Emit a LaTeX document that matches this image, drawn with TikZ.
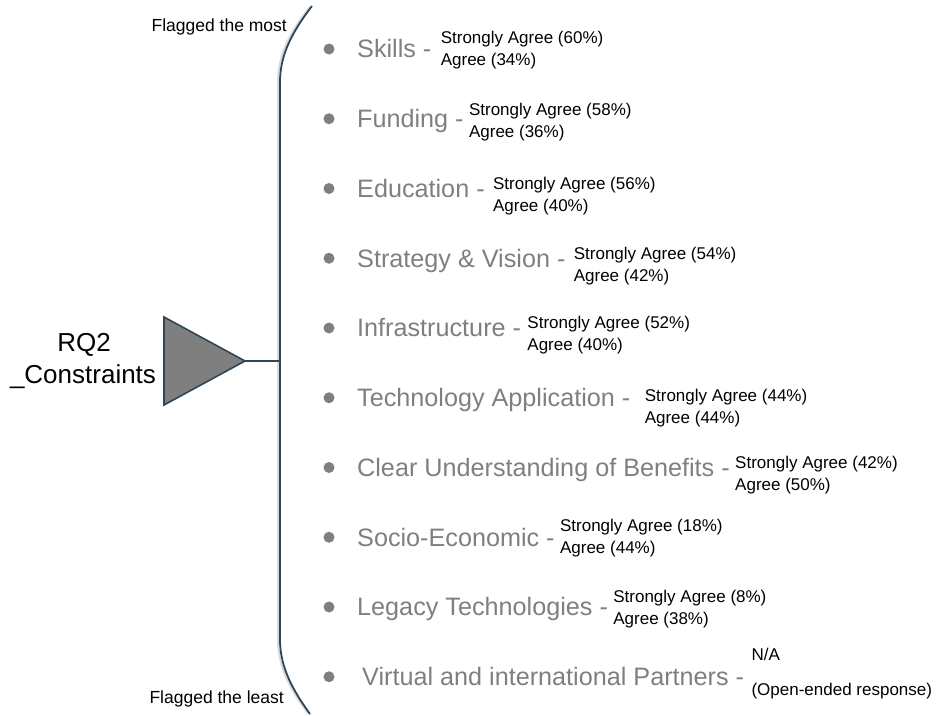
\documentclass[tikz,border=0pt]{standalone}
\usepackage{fontspec}
\setmainfont{Liberation Sans}
\usetikzlibrary{calc}
\definecolor{labgray}{HTML}{7F7F7F}
\definecolor{darkline}{HTML}{2E4657}
\newcommand\rowentry[8]{%
  \node[bul] (b#1) at (329,#2) {};
  \node[mainlab] (m#1) at (#8,{#2+8.8}) {#3};
  \node[sublab] (sa#1) at ($(m#1.base east)+(#7,{#4-8.8})$) {#5};
  \node[sublab] (sb#1) at ($(sa#1.base west)+(0,22)$) {#6};
}
\begin{document}
\begin{tikzpicture}[x=1pt,y=-1pt,
  mainlab/.style={anchor=base west, inner sep=0pt, text=labgray, font=\fontsize{25.2}{28}\selectfont},
  sublab/.style={anchor=base west, inner sep=0pt, font=\fontsize{17}{20}\selectfont},
  bul/.style={circle, fill=labgray, minimum size=11pt, inner sep=0pt},
  flag/.style={inner sep=0pt, font=\fontsize{17.5}{20}\selectfont},
  rqlab/.style={inner sep=0pt, font=\fontsize{26}{30}\selectfont}]
\useasboundingbox (0,0) rectangle (944,715);

% bracket
\coordinate (btop) at (312,6);
\coordinate (bbot) at (310,714);
\coordinate (bmid) at (280,361);
\draw[gray!30, line width=2pt] ([xshift=-2pt,yshift=-1pt]btop) .. controls (290,32) and (278,55) .. (278,82) -- (278,640) .. controls (278,668) and (292,692) .. ([xshift=-2pt,yshift=1pt]bbot);
\draw[darkline, line width=1.8pt] (btop) .. controls (292,32) and (280,55) .. (280,82) -- (280,640) .. controls (280,668) and (294,692) .. (bbot);

% triangle and stem
\coordinate (t1) at (164,317);
\coordinate (t2) at (164,405);
\coordinate (tip) at (245,361);
\draw[darkline, line width=1.6pt, fill=labgray, line join=miter] (t1) -- (tip) -- (t2) -- cycle;
\draw[darkline, line width=1.8pt] (tip) -- (bmid);

% RQ2 label
\node[rqlab] (rq) at (84,345) {RQ2};
\node[rqlab] (cons) at (83,377) {\_Constraints};

% flags
\node[flag, anchor=base east] (most) at (287,31) {Flagged the most};
\node[flag, anchor=base east] (least) at (284,703) {Flagged the least};

% rows
\rowentry{1}{49}{Skills -}{-5.5}{Strongly Agree (60\%)}{Agree (34\%)}{9}{357}
\rowentry{2}{118.75}{Funding -}{-3}{Strongly Agree (58\%)}{Agree (36\%)}{5}{357}
\rowentry{3}{188.5}{Education -}{0.5}{Strongly Agree (56\%)}{Agree (40\%)}{8}{357}
\rowentry{4}{258.25}{Strategy \& Vision -}{1}{Strongly Agree (54\%)}{Agree (42\%)}{8}{357}
\rowentry{5}{328}{Infrastructure -}{0.5}{Strongly Agree (52\%)}{Agree (40\%)}{6}{357}
\rowentry{6}{397.75}{Technology Application -}{4}{Strongly Agree (44\%)}{Agree (44\%)}{14}{357}
\rowentry{7}{467.5}{Clear Understanding of Benefits -}{0.5}{Strongly Agree (42\%)}{Agree (50\%)}{5}{357}
\rowentry{8}{537.25}{Socio-Economic -}{-6}{Strongly Agree (18\%)}{Agree (44\%)}{5}{357}
\rowentry{9}{607}{Legacy Technologies -}{-5}{Strongly Agree (8\%)}{Agree (38\%)}{5}{357}

% last row
\node[bul] (b10) at (329,676.75) {};
\node[mainlab] (m10) at (362,685.5) {Virtual and international Partners -};
\node[sublab] (sa10) at ($(m10.base east)+(7,-25)$) {N/A};
\node[sublab] (sb10) at ($(m10.base east)+(7,10)$) {(Open-ended response)};
\end{tikzpicture}
\end{document}
